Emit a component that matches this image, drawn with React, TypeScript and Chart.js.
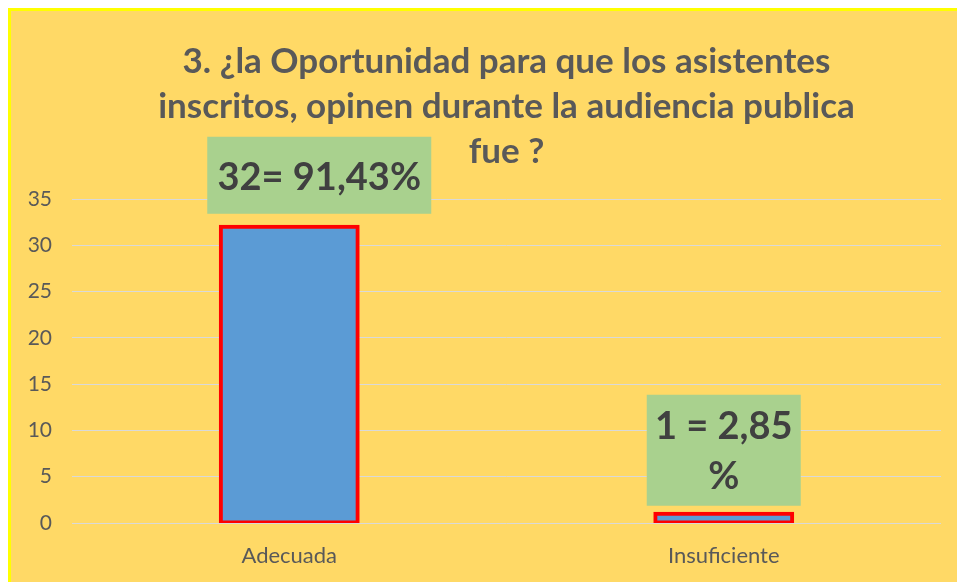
import React, { useEffect, useRef } from "react";
import { Chart, registerables } from "chart.js";

Chart.register(...registerables);

const titleLines = [
  "3. ¿la Oportunidad para que los asistentes",
  "inscritos, opinen durante la audiencia publica",
  "fue ?",
];
const categories = ["Adecuada", "Insuficiente"];
const counts = [32, 1];
const valueLabels = [["32= 91,43%"], ["1 = 2,85", "%"]];
const yMax = 35;
const yStep = 5;

const FONT = "Lato, 'Open Sans', sans-serif";

// label box styling (not data)
const boxStyles = [
  { dx: 30, w: 224, h: 77, gap: 13, lineH: 50 },
  { dx: 0, w: 154, h: 111, gap: 8, lineH: 50 },
];

const labelBoxPlugin = {
  id: "labelBoxes",
  afterDatasetsDraw(chart: any) {
    const ctx = chart.ctx;
    const meta = chart.getDatasetMeta(0);
    meta.data.forEach((bar: any, i: number) => {
      const s = boxStyles[i];
      const lines = valueLabels[i];
      const cx = bar.x + s.dx;
      const bottom = bar.y - s.gap;
      const top = bottom - s.h;
      ctx.save();
      ctx.fillStyle = "#A9D18E";
      ctx.fillRect(cx - s.w / 2, top, s.w, s.h);
      ctx.fillStyle = "#404040";
      ctx.font = `bold 38px ${FONT}`;
      ctx.textAlign = "center";
      ctx.textBaseline = "middle";
      const cy = top + s.h / 2;
      const n = lines.length;
      lines.forEach((t, k) => {
        ctx.fillText(t, cx, cy + (k - (n - 1) / 2) * s.lineH + 2);
      });
      ctx.restore();
    });
  },
};

export default function App() {
  const ref = useRef<HTMLCanvasElement>(null);
  useEffect(() => {
    const chart = new Chart(ref.current!, {
      type: "bar",
      data: {
        labels: categories,
        datasets: [
          {
            data: counts,
            backgroundColor: "#5B9BD5",
            borderColor: "#FF0000",
            borderWidth: 4,
            borderSkipped: false,
            inflateAmount: 2,
            categoryPercentage: 1,
            barPercentage: 0.315,
          },
        ],
      },
      options: {
        animation: false,
        responsive: true,
        maintainAspectRatio: false,
        layout: { padding: { left: 0, right: 16, top: 0, bottom: 0 } },
        plugins: {
          legend: { display: false },
          tooltip: { enabled: false },
          title: {
            display: true,
            text: titleLines,
            fullSize: false,
            color: "#595959",
            font: { family: FONT, size: 35, weight: "bold", lineHeight: 45 / 35 },
            padding: { top: 28, bottom: 25 },
          },
        },
        scales: {
          x: {
            grid: { display: false },
            border: { display: false },
            ticks: {
              color: "#595959",
              font: { family: FONT, size: 22 },
              padding: 12,
            },
            afterFit(scale: any) {
              scale.height = 59;
            },
          },
          y: {
            min: 0,
            max: yMax,
            grid: { color: "#D9D9D9", lineWidth: 1, drawTicks: false },
            border: { display: false },
            ticks: {
              stepSize: yStep,
              color: "#595959",
              font: { family: FONT, size: 21 },
              padding: 20,
            },
            afterFit(scale: any) {
              scale.width = 61;
            },
          },
        },
      },
      plugins: [labelBoxPlugin],
    });
    return () => chart.destroy();
  }, []);
  return (
    <div
      style={{
        position: "fixed",
        left: 8,
        top: 8,
        right: 0,
        bottom: 0,
        boxSizing: "border-box",
        borderTop: "3px solid #FFFF00",
        borderLeft: "3px solid #FFFF00",
        background: "#FFD966",
      }}
    >
      <div style={{ position: "relative", width: "100%", height: "100%" }}>
        <canvas ref={ref} />
      </div>
    </div>
  );
}
